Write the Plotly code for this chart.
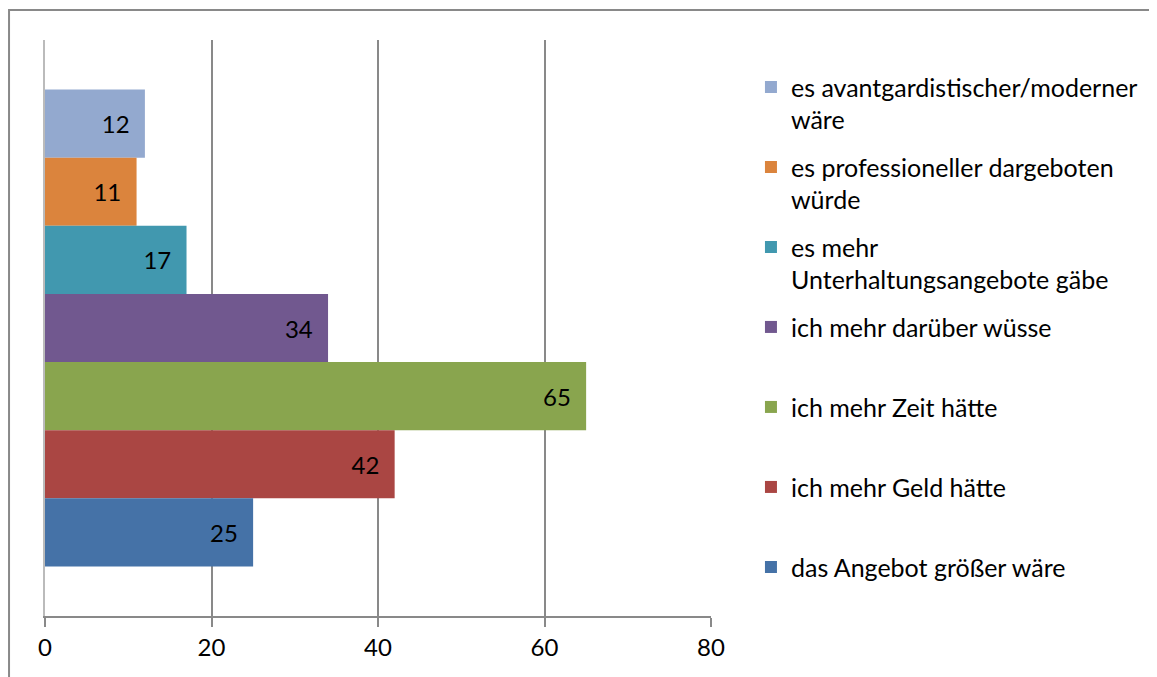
import plotly.graph_objects as go

# Reihenfolge wie in Excel (unten nach oben)
gruende = [
    "das Angebot größer wäre",
    "ich mehr Geld hätte",
    "ich mehr Zeit hätte",
    "ich mehr darüber wüsse",
    "es mehr<br>Unterhaltungsangebote gäbe",
    "es professioneller dargeboten<br>würde",
    "es avantgardistischer/moderner<br>wäre",
]
werte = [25, 42, 65, 34, 17, 11, 12]
farben = ["#4572A7", "#AA4643", "#89A54E", "#71588F", "#4198AF", "#DB843D", "#93A9CF"]
x_ticks = [0, 20, 40, 60, 80]

FONT = "Lato"
GRAU = "#898989"

fig = go.Figure()

# von oben nach unten zeichnen (y-Achse umgedreht), damit die Legende passt
for i, (name, wert, farbe) in enumerate(reversed(list(zip(gruende, werte, farben)))):
    # einzeilige Einträge auffüllen, damit die Legende gleichmäßige Abstände hat
    label = name if "<br>" in name else name + "<br> "
    fig.add_trace(
        go.Bar(
            x=[wert],
            y=["Gründe"],
            orientation="h",
            name=label,
            legendgroup=f"g{i}",
            marker_color=farbe,
            marker_line_width=0,
            text=[wert],
            texttemplate="%{text}\u00a0\u00a0",
            textposition="inside",
            insidetextanchor="end",
            textfont=dict(family=FONT, size=24, color="black"),
            constraintext="none",
        )
    )

# die Seite hat 8px Rand, daher ist die Figur etwas kleiner
fig.update_layout(
    barmode="group",
    bargap=0.172,
    bargroupgap=0,
    plot_bgcolor="white",
    paper_bgcolor="white",
    font=dict(family=FONT, size=24, color="black"),
    width=1149,
    height=669,
    margin=dict(l=37, r=446, t=32, b=61),
    showlegend=True,
    legend=dict(
        traceorder="grouped",
        tracegroupgap=12,
        valign="top",
        x=1.06,
        xanchor="left",
        y=0.958,
        yanchor="top",
        font=dict(family=FONT, size=25, color="black"),
        bgcolor="rgba(0,0,0,0)",
    ),
    xaxis=dict(
        range=[0, 80],
        tickvals=x_ticks,
        showgrid=True,
        gridcolor=GRAU,
        gridwidth=1.5,
        zeroline=False,
        showline=True,
        linecolor=GRAU,
        linewidth=1.5,
        ticks="outside",
        ticklen=9,
        tickcolor=GRAU,
        tickwidth=1.5,
        tickfont=dict(family=FONT, size=24, color="black"),
        fixedrange=True,
    ),
    yaxis=dict(
        autorange="reversed",
        showticklabels=False,
        showgrid=False,
        zeroline=False,
        showline=True,
        linecolor="#BBBBBB",
        linewidth=1.5,
        fixedrange=True,
    ),
    shapes=[
        # Rahmen des Diagrammbereichs (rechts/unten außerhalb des Bildes)
        dict(
            type="rect",
            xref="paper",
            yref="paper",
            x0=-0.054,
            x1=1.7,
            y0=-0.15,
            y1=1.052,
            line=dict(color=GRAU, width=2),
            fillcolor="rgba(0,0,0,0)",
            layer="below",
        )
    ],
)

fig.write_html("out.html")
